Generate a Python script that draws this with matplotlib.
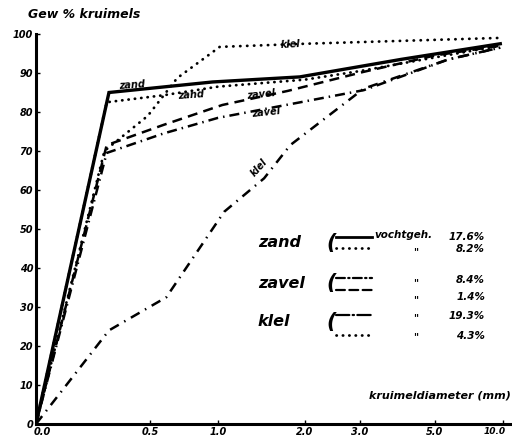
import numpy as np
import matplotlib.pyplot as plt
import matplotlib.transforms as mtransforms
from matplotlib.lines import Line2D

# kruimeldiameter (mm) en gew.% kruimels
zand_176_x = [0, 0.32, 0.96, 1.94, 4.1, 9.8]
zand_176_y = [0, 85, 87.7, 89, 93.5, 97.5]

zand_82_x = [0, 0.31, 0.6, 1.0, 2.0, 3.0, 5.0, 9.8]
zand_82_y = [0, 82.5, 84.3, 86.5, 88.3, 90.5, 94, 97]

zavel_84_x = [0, 0.31, 0.6, 1.0, 1.9, 3.1, 6.0, 9.8]
zavel_84_y = [0, 69.5, 74.5, 78.5, 82.3, 85.6, 93.5, 96.5]

zavel_14_x = [0, 0.31, 0.6, 1.05, 1.8, 3.1, 5.0, 9.8]
zavel_14_y = [0, 71.5, 76.7, 81.8, 85.4, 90.3, 94.5, 97]

klel_193_x = [0, 0.32, 0.62, 0.82, 1.07, 1.53, 1.83, 3.1, 6.0, 9.8]
klel_193_y = [0, 24, 32.5, 42.8, 54.4, 63, 71.5, 86, 93.5, 96.5]

klel_43_x = [0, 0.3, 0.49, 0.7, 1.02, 2.0, 9.8]
klel_43_y = [0, 70, 79, 88.7, 96.7, 97.5, 99]

tick_mm = [0, 0.5, 1.0, 2.0, 3.0, 5.0, 10.0]
tick_labels = ['0.0', '0.5', '1.0', '2.0', '3.0', '5.0', '10.0']
y_ticks = [0, 10, 20, 30, 40, 50, 60, 70, 80, 90, 100]

# de x-as van het origineel is onregelmatig verdeeld
scale_mm = np.array(tick_mm + [10.66])
scale_pos = np.array([0, 114, 182, 269, 324, 399, 467, 476]) / 476.0


def fwd(x):
    return np.interp(x, scale_mm, scale_pos)


def inv(p):
    return np.interp(p, scale_pos, scale_mm)


plt.rcParams['font.family'] = 'DejaVu Sans'
FONT = dict(style='italic', weight='bold', color='black')

fig = plt.figure(figsize=(5.12, 4.41), dpi=100)
ax = fig.add_axes([36 / 512, 17 / 441, 476 / 512, 390 / 441])
ax.set_xscale('function', functions=(fwd, inv))
ax.set_xlim(0, 10.66)
ax.set_ylim(0, 100)

ax.plot(zand_176_x, zand_176_y, color='black', lw=2.4, solid_joinstyle='miter')
ax.plot(zand_82_x, zand_82_y, color='black', lw=2.0, linestyle=(0, (0.1, 2.2)),
        dash_capstyle='round')
ax.plot(zavel_84_x, zavel_84_y, color='black', lw=1.8, linestyle=(0, (4, 2, 0.6, 2)))
ax.plot(zavel_14_x, zavel_14_y, color='black', lw=1.8, linestyle=(0, (4, 2.5)))
ax.plot(klel_193_x, klel_193_y, color='black', lw=1.8, linestyle=(0, (4, 2.5, 0.6, 2.5)))
ax.plot(klel_43_x, klel_43_y, color='black', lw=2.0, linestyle=(0, (0.1, 2.4)),
        dash_capstyle='round')

# labels langs de lijnen
ax.text(0.42, 86.9, 'zand', fontsize=7, ha='center', va='center', rotation=4, **FONT)
ax.text(0.80, 84.4, 'zand', fontsize=7, ha='center', va='center', rotation=4, **FONT)
ax.text(1.5, 84.6, 'zavel', fontsize=7, ha='center', va='center', rotation=6, **FONT)
ax.text(1.55, 79.8, 'zavel', fontsize=7, ha='center', va='center', rotation=6, **FONT)
ax.text(1.83, 97.3, 'klel', fontsize=7, ha='center', va='center', rotation=3, **FONT)
ax.text(1.47, 65.8, 'klel', fontsize=7, ha='center', va='center', rotation=48, **FONT)

ax.set_xticks(tick_mm)
ax.set_xticklabels(tick_labels)
ax.set_yticks(y_ticks)
ax.tick_params(direction='in', length=3, width=1, pad=2, labelsize=7)
for lbl in ax.get_xticklabels() + ax.get_yticklabels():
    lbl.set_fontstyle('italic')
    lbl.set_fontweight('bold')

# "0.0" staat in het origineel iets rechts van de hoek, "10.0" iets naar links
first = ax.get_xticklabels()[0]
first.set_transform(first.get_transform() +
                    mtransforms.ScaledTranslation(6 / 100, 0, fig.dpi_scale_trans))
last = ax.get_xticklabels()[-1]
last.set_fontsize(6.5)
last.set_transform(last.get_transform() +
                   mtransforms.ScaledTranslation(-8 / 100, 0, fig.dpi_scale_trans))

for side in ['top', 'right']:
    ax.spines[side].set_visible(False)
for side in ['left', 'bottom']:
    ax.spines[side].set_linewidth(2.2)

fig.text(28 / 512, 1 - 15 / 441, 'Gew % kruimels', fontsize=9, ha='left', va='center', **FONT)
fig.text(511 / 512, 1 - 396 / 441, 'kruimeldiameter (mm)', fontsize=8,
         ha='right', va='center', **FONT)

# legenda
def fx(px):
    return px / 512


def fy(py):
    return 1 - py / 441


groups = [
    ('zand', 243, [(237, '-', 2.0), (248, (0, (0.1, 2.2)), 2.0)]),
    ('zavel', 283, [(278, (0, (4, 1.5, 0.6, 1.5)), 1.6), (290, (0, (4, 2)), 1.6)]),
    ('klel', 322, [(315, (0, (6, 1.5, 0.6, 1.5)), 1.6), (335, (0, (0.1, 2.2)), 2.0)]),
]
for name, yc, rows in groups:
    fig.text(fx(258), fy(yc), name, fontsize=11.5, ha='left', va='center', **FONT)
    fig.text(fx(326), fy(yc), '(', fontsize=15, ha='left', va='center', **FONT)
    for yl, ls, lw in rows:
        fig.add_artist(Line2D([fx(336), fx(372)], [fy(yl), fy(yl)], transform=fig.transFigure,
                              color='black', lw=lw, linestyle=ls, dash_capstyle='round'))

fig.text(fx(374), fy(235), 'vochtgeh.', fontsize=7.5, ha='left', va='center', **FONT)
for yl in [252, 283, 300, 318, 337]:
    fig.text(fx(416), fy(yl), '"', fontsize=7, ha='center', va='center', **FONT)

pct_labels = ['17.6%', '8.2%', '8.4%', '1.4%', '19.3%', '4.3%']
pct_rows = [237, 249, 280, 297, 316, 336]
for txt, yl in zip(pct_labels, pct_rows):
    fig.text(fx(485), fy(yl), txt, fontsize=7.5, ha='right', va='center', **FONT)

fig.savefig('out.png', dpi=100)
